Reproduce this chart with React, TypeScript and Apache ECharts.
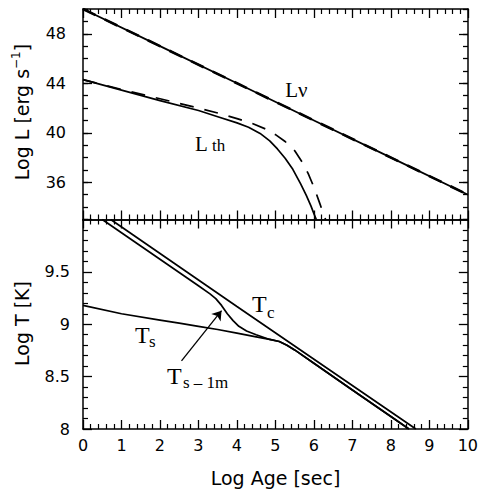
import React, { useEffect, useRef } from "react";
import * as echarts from "echarts";

// ---- data ----
const ageLnu = [0, 2, 4, 6, 8, 10];
const logLnu = [50, 47, 44, 41, 38, 35];

const ageLthSolid = [0, 1, 2, 3, 3.5, 4, 4.3, 4.6, 4.85, 5.05, 5.25, 5.45, 5.65, 5.8, 5.92, 6.0, 6.06];
const logLthSolid = [44.3, 43.45, 42.6, 41.8, 41.3, 40.8, 40.45, 39.95, 39.35, 38.7, 37.95, 37.05, 35.9, 34.95, 34.1, 33.45, 33.0];

const ageLthDash = [0, 1, 2, 3, 3.5, 4, 4.4, 4.75, 5.0, 5.25, 5.5, 5.7, 5.85, 6.0, 6.15, 6.3];
const logLthDash = [44.3, 43.5, 42.75, 42.0, 41.6, 41.15, 40.75, 40.3, 39.85, 39.3, 38.55, 37.6, 36.7, 35.6, 34.3, 33.0];

const ageTc = [0.72, 4, 8.65];
const logTc = [10, 9.17, 8.0];

const ageTs = [0, 1, 2, 2.5, 3, 3.5, 4, 4.5, 4.85, 5.1, 5.3, 5.5, 6, 7, 8, 8.47];
const logTs = [9.18, 9.1, 9.04, 9.01, 8.98, 8.95, 8.915, 8.88, 8.855, 8.835, 8.8, 8.755, 8.628, 8.373, 8.119, 8.0];

const ageTs1m = [0.5, 1.5, 2.5, 3.0, 3.3, 3.45, 3.6, 3.75, 3.9, 4.05, 4.25, 4.5, 4.85, 5.1, 5.3, 5.5, 6, 7, 8, 8.47];
const logTs1m = [10, 9.747, 9.494, 9.367, 9.29, 9.245, 9.18, 9.1, 9.035, 8.98, 8.935, 8.9, 8.855, 8.835, 8.8, 8.755, 8.628, 8.373, 8.119, 8.0];

const arrowFrom = [2.56, 8.65];
const arrowTo = [3.6, 9.13];

const xRange = { min: 0, max: 10, interval: 1 };
const topY = { min: 33, max: 50, interval: 1 };
const topYMajorTicks = [36, 40, 44, 48];
const botY = { min: 8, max: 10, interval: 0.5 };

// label anchors in data units
const topLabels = [
  { at: [5.25, 43.44], main: "Lν", sub: "", size: 21, dx: 0, dy: 0 },
  { at: [2.91, 39.11], main: "L", sub: "th", size: 21, dx: 17, dy: 1.5 },
];
const botLabels = [
  { at: [4.39, 9.193], main: "T", sub: "c", size: 24, dx: 15, dy: 8 },
  { at: [1.351, 8.902], main: "T", sub: "s", size: 24, dx: 14, dy: 6.5 },
  { at: [2.182, 8.505], main: "T", sub: "s – 1m", size: 24, dx: 16, dy: 6 },
];

const pairs = (xs: number[], ys: number[]) => xs.map((x, i) => [x, ys[i]]);

const BLACK = "#000";
const SANS = "DejaVu Sans";
const SERIF = "Liberation Serif";
const BOTTOM_DIV_TOP = 200;

const mkLine = () => ({ show: true, onZero: false, lineStyle: { color: BLACK, width: 1.5 } });
const mkTick = (len: number, extra: any = {}) => ({
  show: true,
  inside: true,
  length: len,
  lineStyle: { color: BLACK, width: 1.3 },
  ...extra,
});
const mkMinor = () => ({ show: true, splitNumber: 5, length: 5, lineStyle: { color: BLACK, width: 1.2 } });
const labelStyle = { show: true, color: BLACK, fontFamily: SANS, fontSize: 16 };

const xAxis = (position: string, labels: boolean) => ({
  type: "value",
  position,
  ...xRange,
  axisLine: mkLine(),
  axisTick: mkTick(9),
  minorTick: mkMinor(),
  axisLabel: labels ? { ...labelStyle, margin: 8 } : { show: false },
  splitLine: { show: false },
});

const lineSeries = (data: number[][], width: number, type: any = "solid", extra: any = {}) => ({
  type: "line",
  data,
  symbol: "none",
  showSymbol: false,
  silent: true,
  lineStyle: { color: BLACK, width, type },
  ...extra,
});

const labelGraphics = (chart: any, labels: any[]) => {
  const out: any[] = [];
  labels.forEach((l) => {
    const p = chart.convertToPixel({ xAxisIndex: 0, yAxisIndex: 0 }, l.at) as number[];
    out.push({
      type: "text",
      x: p[0],
      y: p[1],
      silent: true,
      style: { text: l.main, font: `${l.size}px "${SERIF}"`, fill: BLACK, textAlign: "left", textVerticalAlign: "middle" },
    });
    if (l.sub) {
      out.push({
        type: "text",
        x: p[0] + l.dx,
        y: p[1] + l.dy,
        silent: true,
        style: { text: l.sub, font: `17px "${SERIF}"`, fill: BLACK, textAlign: "left", textVerticalAlign: "middle" },
      });
    }
  });
  return out;
};

export default function App() {
  const topRef = useRef<HTMLDivElement>(null);
  const botRef = useRef<HTMLDivElement>(null);

  useEffect(() => {
    // ---------- top panel ----------
    const top = echarts.init(topRef.current!, null, { renderer: "svg" });
    const yTopMinor = (position: string, labels: boolean) => ({
      type: "value",
      position,
      ...topY,
      axisLine: mkLine(),
      axisTick: mkTick(5),
      axisLabel: labels
        ? { ...labelStyle, margin: 17, formatter: (v: number) => (topYMajorTicks.includes(v) ? String(v) : "") }
        : { show: false },
      splitLine: { show: false },
    });
    const yTopMajor = (position: string) => ({
      type: "value",
      position,
      min: topY.min,
      max: topY.max,
      axisLine: { show: false, onZero: false },
      axisTick: mkTick(9, { customValues: topYMajorTicks }),
      axisLabel: { show: false },
      splitLine: { show: false },
    });
    top.setOption({
      animation: false,
      grid: { left: 83, top: 9, width: 385, height: 210.5 },
      xAxis: [xAxis("bottom", false), xAxis("top", false)],
      yAxis: [yTopMinor("left", true), yTopMajor("left"), yTopMinor("right", false), yTopMajor("right")],
      series: [
        lineSeries(pairs(ageLnu, logLnu), 1.8),
        lineSeries(pairs(ageLnu, logLnu), 2.6, [14, 10]),
        lineSeries(pairs(ageLthSolid, logLthSolid), 1.7),
        lineSeries(pairs(ageLthDash, logLthDash), 1.7, [14, 11]),
      ],
    } as any);
    top.setOption({
      graphic: [
        ...labelGraphics(top, topLabels),
        {
          type: "text",
          x: 22,
          y: 112,
          rotation: Math.PI / 2,
          silent: true,
          style: {
            text: "{a|Log L [erg s}{b|−1}{a|]}",
            fill: BLACK,
            textAlign: "center",
            textVerticalAlign: "middle",
            rich: {
              a: { fontFamily: SANS, fontSize: 19, lineHeight: 24, fill: BLACK },
              b: { fontFamily: SANS, fontSize: 12, lineHeight: 12, verticalAlign: "top", fill: BLACK },
            },
          },
        },
      ],
    } as any);

    // ---------- bottom panel ----------
    const bot = echarts.init(botRef.current!, null, { renderer: "svg" });
    const yBot = (position: string, labels: boolean) => ({
      type: "value",
      position,
      ...botY,
      axisLine: mkLine(),
      axisTick: mkTick(9),
      minorTick: mkMinor(),
      axisLabel: labels
        ? { ...labelStyle, margin: 13, formatter: (v: number) => (v >= botY.max ? "" : String(v)) }
        : { show: false },
      splitLine: { show: false },
    });
    bot.setOption({
      animation: false,
      grid: { left: 83, top: 219.5 - BOTTOM_DIV_TOP, width: 385, height: 209.5 },
      xAxis: [xAxis("bottom", true), xAxis("top", false)],
      yAxis: [yBot("left", true), yBot("right", false)],
      series: [
        lineSeries(pairs(ageTc, logTc), 1.7),
        lineSeries(pairs(ageTs, logTs), 1.7),
        lineSeries(pairs(ageTs1m, logTs1m), 1.7, "solid", {
          markLine: {
            silent: true,
            symbol: ["none", "arrow"],
            symbolSize: 9,
            label: { show: false },
            lineStyle: { color: BLACK, type: "solid", width: 1.3 },
            data: [[{ coord: arrowFrom }, { coord: arrowTo }]],
          },
        }),
      ],
    } as any);
    bot.setOption({
      graphic: [
        ...labelGraphics(bot, botLabels),
        {
          type: "text",
          x: 22,
          y: 323.5 - BOTTOM_DIV_TOP,
          rotation: Math.PI / 2,
          silent: true,
          style: { text: "Log T [K]", font: `19px "${SANS}"`, fill: BLACK, textAlign: "center", textVerticalAlign: "middle" },
        },
        {
          type: "text",
          x: 275.5,
          y: 478 - BOTTOM_DIV_TOP,
          silent: true,
          style: { text: "Log Age [sec]", font: `19px "${SANS}"`, fill: BLACK, textAlign: "center", textVerticalAlign: "middle" },
        },
      ],
    } as any);

    return () => {
      top.dispose();
      bot.dispose();
    };
  }, []);

  return (
    <div style={{ position: "absolute", left: 0, top: 0, width: 481, height: 496, background: "#fff" }}>
      <div ref={botRef} style={{ position: "absolute", left: 0, top: BOTTOM_DIV_TOP, width: 481, height: 496 - BOTTOM_DIV_TOP }} />
      <div ref={topRef} style={{ position: "absolute", left: 0, top: 0, width: 481, height: 232 }} />
    </div>
  );
}
